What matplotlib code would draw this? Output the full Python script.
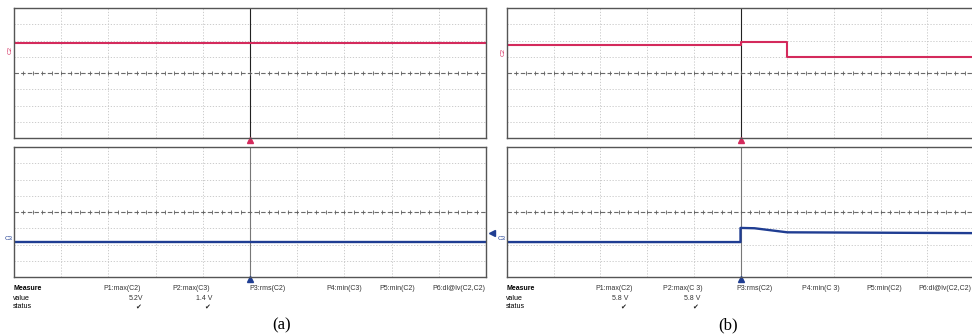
import numpy as np
import matplotlib.pyplot as plt

plt.rcParams['font.family'] = ['Liberation Sans', 'DejaVu Sans']

W, H = 972, 336

# trace levels in screen divisions (x: -5..5, y: -4..4)
a_c2_x = [-5, 5]
a_c2_y = [1.85, 1.85]
a_c3_x = [-5, 5]
a_c3_y = [-1.85, -1.85]

b_c2_x = [-5, 0, 0, 1, 1, 5]
b_c2_y = [1.75, 1.75, 1.88, 1.88, 0.97, 0.97]
b_c3_x = [-5, 0, 0, 0.3, 1.0, 5]
b_c3_y = [-1.85, -1.85, -0.98, -1.0, -1.25, -1.3]

a_params = ['P1:max(C2)', 'P2:max(C3)', 'P3:rms(C2)', 'P4:min(C3)', 'P5:min(C2)', 'P6:dl@lv(C2,C2)']
b_params = ['P1:max(C2)', 'P2:max(C 3)', 'P3:rms(C2)', 'P4:min(C 3)', 'P5:min(C2)', 'P6:dl@lv(C2,C2)']
a_values = ['5.2V', '1.4 V']
b_values = ['5.8 V', '5.8 V']

RED = '#d42a5c'
BLUE = '#1f3d92'
GRID = '#c4c4c4'

fig = plt.figure(figsize=(W / 100, H / 100), dpi=100)


def px_axes(x0, y0, x1, y1):
    return fig.add_axes([x0 / W, 1 - y1 / H, (x1 - x0) / W, (y1 - y0) / H])


def ftext(x, y, s, **kw):
    fig.text(x / W, 1 - y / H, s, va='center', **kw)


def scope_grid(ax, cursor_color):
    ax.set_xlim(-5, 5)
    ax.set_ylim(-4, 4)
    ax.set_xticks([])
    ax.set_yticks([])
    for x in range(-4, 5):
        if x != 0:
            ax.axvline(x, color=GRID, lw=0.6, ls=(0, (1.5, 2)))
    for y in range(-3, 4):
        if y != 0:
            ax.axhline(y, color=GRID, lw=0.6, ls=(0, (1.5, 2)))
    # centre lines with sub-division ticks
    ax.axhline(0, color='#6a6a6a', lw=0.8, ls=(0, (4, 2)))
    ax.axvline(0, color=cursor_color, lw=0.8)
    xs = np.arange(-5, 5.01, 0.2)
    ax.plot(xs, np.zeros_like(xs), '|', ms=3, color='#606060', mew=0.6)
    for s in ax.spines.values():
        s.set_color('#555555')
        s.set_linewidth(1.0)


def panel(x0, x1, c2x, c2y, c3x, c3y, params, values, col_x, val_x, label, label_x):
    top = px_axes(x0, 8, x1, 138)
    bot = px_axes(x0, 147, x1, 277)
    scope_grid(top, '#222222')
    scope_grid(bot, '#777777')
    top.plot(c2x, c2y, color=RED, lw=1.5)
    bot.plot(c3x, c3y, color=BLUE, lw=1.7)
    top.plot([0], [-4.15], marker='^', color=RED, ms=4, clip_on=False)
    bot.plot([0], [-4.15], marker='^', color=BLUE, ms=4, clip_on=False)
    bot.plot([5.12], [-1.3], marker='<', color=BLUE, ms=4, clip_on=False)

    ftext(x0 - 4, 8 + 65 * (1 - c2y[0] / 4) + 7, 'C2', color=RED, fontsize=4.5, rotation=90, ha='center')
    ftext(x0 - 5, 147 + 65 * (1 - c3y[0] / 4) - 4, 'C3', color=BLUE, fontsize=4.5, ha='center')

    ftext(x0 - 1, 288, 'Measure', fontsize=5, fontweight='bold')
    ftext(x0 - 1, 298, 'value', fontsize=5)
    ftext(x0 - 1, 307, 'status', fontsize=5)
    for p, x in zip(params, col_x):
        ftext(x, 288, p, fontsize=5, color='#333333')
    for v, x in zip(values, val_x):
        ftext(x, 298, v, fontsize=5, ha='right', color='#333333')
        ftext(x - 5, 307, '\u2714', fontsize=5, ha='center', color='#222222')
    ftext(label_x, 325, label, fontsize=12, ha='center', family='Liberation Serif')


panel(14, 486, a_c2_x, a_c2_y, a_c3_x, a_c3_y, a_params, a_values,
      [103, 172, 249, 326, 379, 432], [143, 212], '(a)', 282)
panel(507, 974, b_c2_x, b_c2_y, b_c3_x, b_c3_y, b_params, b_values,
      [595, 663, 736, 802, 866, 918], [628, 700], '(b)', 728)

plt.savefig('out.png', dpi=100)
